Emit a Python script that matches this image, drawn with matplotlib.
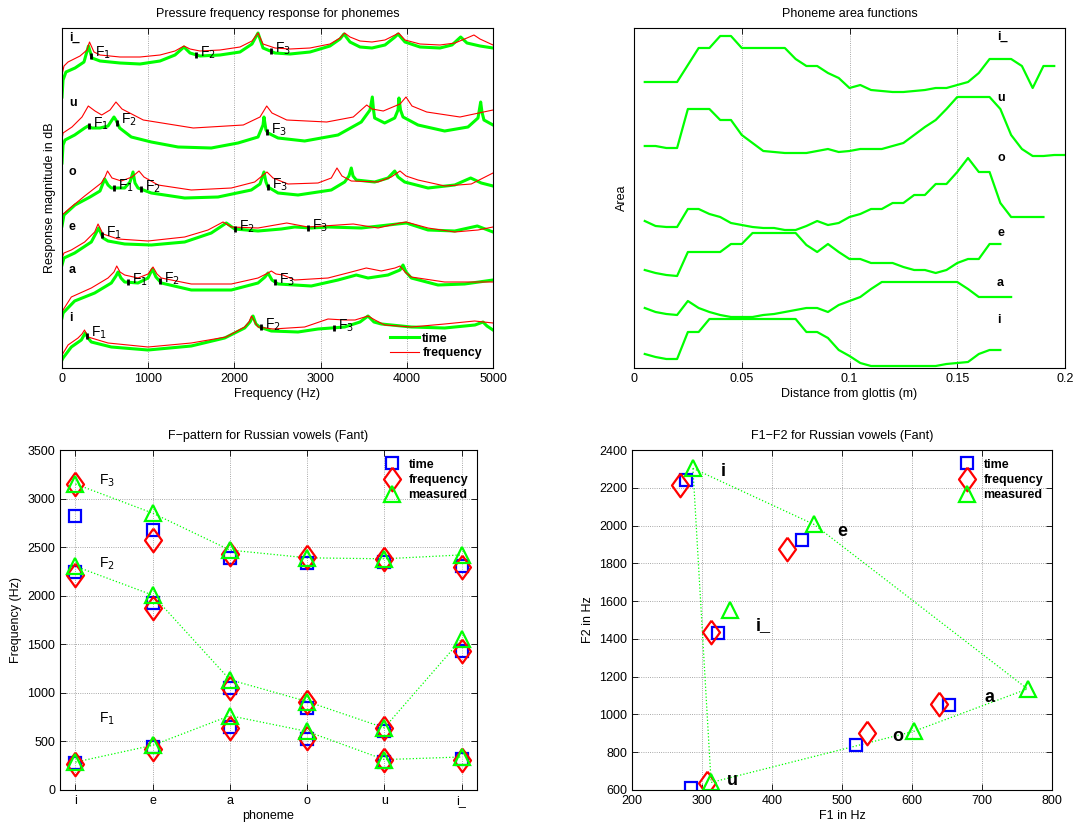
import matplotlib
matplotlib.use('Agg')
import matplotlib.pyplot as plt
import numpy as np

plt.rcParams['font.family'] = ['Liberation Sans', 'DejaVu Sans']
plt.rcParams['font.size'] = 9
plt.rcParams['axes.linewidth'] = 0.8

GREEN = (0, 1, 0)
RED = (1, 0, 0)
BLUE = (0, 0, 1)
DIAMOND = [(0, 1), (0.72, 0), (0, -1), (-0.72, 0), (0, 1)]

phonemes = ['i', 'e', 'a', 'o', 'u', 'i_']

# formant frequencies (Hz) per phoneme, same order as phonemes
f1_time = [277, 443, 653, 520, 284, 323]
f2_time = [2241, 1925, 1050, 840, 609, 1429]
f3_time = [2821, 2679, 2390, 2335, 2350, 2303]
f1_freq = [269, 421, 639, 536, 307, 313]
f2_freq = [2213, 1874, 1055, 902, 635, 1436]
f3_freq = [3145, 2576, 2431, 2400, 2380, 2293]
f1_meas = [287, 460, 765, 603, 313, 340]
f2_meas = [2303, 2006, 1135, 911, 640, 1553]
f3_meas = [3150, 2850, 2470, 2390, 2380, 2420]

# pressure responses, (Hz, level in dB incl. stacking offset)
resp_time_i_ = [(0, 271), (12, 288), (46, 296), (151, 300), (255, 306), (307, 322), (348, 310), (441, 307),
                (673, 305), (905, 304), (1137, 307), (1311, 313), (1415, 321), (1485, 315), (1601, 312),
                (1833, 313), (2065, 316), (2204, 324), (2274, 335), (2332, 320), (2471, 315), (2645, 314),
                (2877, 316), (3109, 322), (3225, 329), (3271, 334), (3341, 326), (3457, 321), (3596, 320),
                (3747, 323), (3863, 331), (3898, 334), (3979, 326), (4153, 321), (4385, 320), (4524, 323),
                (4625, 331), (4698, 325), (4849, 322), (5000, 320)]
resp_freq_i_ = [(0, 293), (23, 302), (70, 306), (209, 312), (290, 318), (319, 326), (371, 316), (441, 313),
                (673, 311), (905, 311), (1137, 313), (1311, 317), (1415, 322), (1485, 319), (1601, 317),
                (1833, 318), (2065, 321), (2204, 327), (2274, 335), (2332, 324), (2471, 320), (2645, 319),
                (2877, 320), (3109, 324), (3225, 330), (3279, 335), (3341, 331), (3457, 327), (3596, 326),
                (3747, 328), (3863, 333), (3906, 335), (3979, 328), (4153, 324), (4385, 323), (4559, 325),
                (4698, 330), (4779, 333), (4849, 329), (5000, 323)]
resp_time_u = [(0, 205), (12, 223), (35, 228), (147, 233), (263, 240), (302, 242), (348, 240), (441, 240),
               (534, 242), (580, 248), (603, 251), (626, 248), (669, 240), (804, 231), (1036, 226),
               (1346, 221), (1732, 220), (2042, 225), (2274, 231), (2332, 243), (2343, 251), (2366, 238),
               (2390, 235), (2506, 230), (2815, 227), (3202, 233), (3472, 246), (3573, 258), (3600, 271),
               (3614, 258), (3627, 250), (3743, 245), (3860, 250), (3898, 258), (3909, 270), (3927, 258),
               (3956, 251), (4130, 243), (4439, 237), (4710, 241), (4826, 250), (4857, 266), (4872, 256),
               (4895, 248), (5000, 243)]
resp_freq_u = [(0, 228), (12, 235), (116, 241), (232, 251), (305, 262), (383, 257), (461, 253), (557, 258),
               (626, 266), (696, 259), (943, 248), (1523, 240), (2103, 243), (2297, 251), (2375, 262),
               (2436, 255), (2607, 248), (3071, 246), (3379, 251), (3535, 263), (3596, 259), (3727, 257),
               (3921, 264), (3991, 271), (4060, 262), (4231, 256), (4617, 251), (5000, 258)]
resp_time_o = [(0, 142), (23, 153), (151, 163), (325, 171), (441, 177), (495, 189), (534, 183), (572, 180),
               (727, 180), (789, 186), (824, 196), (847, 185), (882, 180), (1036, 175), (1423, 170),
               (1810, 171), (2196, 178), (2297, 184), (2343, 196), (2366, 186), (2390, 181), (2506, 175),
               (2738, 173), (3124, 178), (3279, 186), (3329, 192), (3356, 200), (3376, 192), (3414, 188),
               (3627, 186), (3782, 190), (3860, 197), (3898, 191), (3975, 186), (4246, 180), (4556, 183),
               (4741, 190), (4864, 185), (5000, 182)]
resp_freq_o = [(0, 153), (93, 160), (263, 172), (456, 185), (499, 191), (528, 197), (580, 190), (688, 187),
               (812, 191), (893, 197), (951, 191), (1114, 183), (1500, 178), (1964, 180), (2235, 186),
               (2320, 192), (2378, 196), (2448, 190), (2622, 184), (2970, 185), (3124, 190), (3190, 200),
               (3248, 192), (3356, 187), (3666, 186), (3820, 191), (3921, 197), (3991, 192), (4130, 188),
               (4443, 182), (4748, 184), (5000, 195)]
resp_time_e = [(0, 103), (23, 110), (147, 115), (340, 126), (426, 140), (476, 130), (534, 127), (727, 124),
               (1036, 123), (1423, 126), (1732, 135), (1906, 145), (2003, 139), (2274, 137), (2544, 139),
               (2699, 141), (2892, 140), (3086, 141), (3472, 140), (3994, 145), (4246, 138), (4556, 137),
               (4818, 142), (5000, 136)]
resp_freq_e = [(0, 110), (23, 115), (108, 118), (263, 126), (379, 136), (418, 144), (476, 134), (650, 129),
               (998, 127), (1423, 131), (1694, 138), (1868, 146), (1964, 141), (2274, 140), (2607, 145),
               (2854, 141), (3379, 144), (3666, 140), (3921, 145), (3994, 146), (4246, 140), (4556, 136),
               (4826, 138), (5000, 141)]
resp_time_a = [(0, 50), (12, 55), (147, 67), (379, 75), (572, 85), (626, 92), (650, 96), (684, 90), (727, 86),
               (882, 85), (998, 90), (1048, 99), (1090, 91), (1152, 85), (1500, 78), (1964, 78), (2274, 85),
               (2355, 91), (2390, 95), (2436, 88), (2506, 84), (2892, 82), (3202, 88), (3414, 93), (3550, 90),
               (3782, 93), (3921, 98), (3956, 103), (3991, 96), (4052, 90), (4362, 83), (4671, 84), (5000, 88)]
resp_freq_a = [(0, 56), (12, 58), (108, 71), (340, 80), (534, 90), (603, 96), (635, 102), (673, 96), (727, 93),
               (882, 90), (998, 94), (1056, 101), (1102, 94), (1152, 90), (1500, 84), (1964, 84), (2274, 90),
               (2390, 95), (2428, 97), (2482, 94), (2564, 93), (2699, 88), (3086, 90), (3356, 96), (3530, 100),
               (3704, 97), (3863, 100), (3921, 102), (3979, 96), (4052, 91), (4439, 86), (5000, 86)]
resp_time_i = [(0, 8), (12, 10), (108, 21), (224, 28), (270, 35), (302, 30), (340, 26), (572, 21), (998, 18),
               (1500, 22), (1887, 30), (2119, 40), (2181, 46), (2216, 52), (2250, 44), (2293, 41), (2428, 37),
               (2738, 36), (2970, 39), (3279, 41), (3457, 46), (3550, 52), (3619, 46), (3704, 44), (4052, 41),
               (4439, 40), (4791, 43), (4884, 46), (4930, 42), (5000, 38)]
resp_freq_i = [(0, 13), (70, 23), (186, 30), (232, 34), (261, 38), (302, 31), (534, 25), (998, 21), (1500, 25),
               (1902, 31), (2119, 41), (2169, 46), (2198, 52), (2250, 44), (2274, 41), (2448, 39), (2815, 41),
               (3086, 49), (3279, 48), (3399, 48), (3550, 52), (3631, 48), (3743, 43), (4052, 41), (4439, 44),
               (4787, 47), (5000, 45)]
resp_label_level = [50, 141, 98, 196, 265, 330]

# area functions, one value per 5 mm tube section (stacked, arbitrary units)
section_pos = [0.005, 0.010, 0.015, 0.020, 0.025, 0.030, 0.035, 0.040, 0.045, 0.050,
               0.055, 0.060, 0.065, 0.070, 0.075, 0.080, 0.085, 0.090, 0.095, 0.100,
               0.105, 0.110, 0.115, 0.120, 0.125, 0.130, 0.135, 0.140, 0.145, 0.150,
               0.155, 0.160, 0.165, 0.170, 0.175, 0.180, 0.185, 0.190, 0.195, 0.200]
area_i_ = [286, 286, 286, 286, 303, 320, 320, 332, 332, 320, 320, 320, 320, 320, 309, 302, 302, 295, 290, 280,
           283, 278, 277, 276, 276, 277, 278, 280, 280, 283, 286, 295, 309, 309, 309, 302, 280, 302, 302]
area_u = [222, 222, 220, 220, 259, 259, 259, 248, 248, 233, 225, 217, 216, 215, 215, 215, 217, 219, 216, 217,
          219, 219, 219, 222, 225, 233, 241, 248, 259, 271, 271, 271, 271, 259, 233, 219, 212, 212, 213, 213]
area_o = [147, 142, 141, 141, 159, 159, 154, 151, 145, 143, 141, 140, 140, 138, 138, 142, 147, 143, 145, 151,
          154, 159, 159, 165, 165, 173, 173, 184, 184, 196, 210, 196, 196, 165, 151, 151, 151, 151]
area_e = [98, 95, 93, 92, 116, 116, 116, 116, 124, 124, 135, 135, 135, 135, 135, 123, 116, 124, 116, 109,
          109, 105, 105, 105, 101, 98, 98, 95, 98, 105, 109, 109, 124, 124]
area_a = [60, 56, 54, 53, 67, 60, 56, 53, 51, 51, 51, 53, 54, 56, 58, 60, 60, 56, 63, 67,
          71, 79, 86, 86, 86, 86, 86, 86, 86, 86, 79, 71, 71, 71, 71]
area_i = [14, 11, 9, 9, 36, 36, 49, 49, 49, 49, 49, 49, 49, 49, 49, 36, 36, 30, 18, 12,
          5, 2, 2, 2, 2, 2, 2, 2, 4, 5, 6, 14, 18, 18]
area_label_level = [48, 135, 85, 210, 270, 331]

# vowel label positions in the F1-F2 plane
f1f2_label_f1 = [330, 500, 711, 580, 343, 387]
f1f2_label_f2 = [2285, 1968, 1090, 882, 650, 1470]

W, H = 1077, 823
fig = plt.figure(figsize=(W / 100, H / 100), dpi=100)


def box(l, t, r, b):
    return [l / W, 1 - b / H, (r - l) / W, (b - t) / H]


def matlab_ticks(ax):
    ax.tick_params(direction='in', top=True, right=True, length=4, width=0.6, labelsize=9)


# ---- pressure frequency response ----
ax1 = fig.add_axes(box(62, 28, 493, 368))
time_curves = [resp_time_i, resp_time_e, resp_time_a, resp_time_o, resp_time_u, resp_time_i_]
freq_curves = [resp_freq_i, resp_freq_e, resp_freq_a, resp_freq_o, resp_freq_u, resp_freq_i_]
for k, (tc, fc) in enumerate(zip(time_curves, freq_curves)):
    tc = np.array(tc, dtype=float)
    fc = np.array(fc, dtype=float)
    ax1.plot(tc[:, 0], tc[:, 1], color=GREEN, lw=2.2, label='time' if k == 0 else None)
    ax1.plot(fc[:, 0], fc[:, 1], color=RED, lw=0.8, label='frequency' if k == 0 else None)
    for j, fm in enumerate([f1_meas[k], f2_meas[k], f3_meas[k]]):
        yv = np.interp(fm, tc[:, 0], tc[:, 1])
        ax1.plot(fm, yv, marker='|', color='k', ms=5, mew=2, linestyle='none')
        ax1.annotate('F$_%d$' % (j + 1), (fm, yv), xytext=(3, -1), textcoords='offset points',
                     ha='left', va='baseline', fontsize=10)
    ax1.text(80, resp_label_level[k], phonemes[k], fontweight='bold', fontsize=9, ha='left', va='center')
ax1.set_xlim(0, 5000)
ax1.set_ylim(0, 340)
ax1.set_yticks([])
ax1.set_xticks(range(0, 5001, 1000))
ax1.grid(True, axis='x', linestyle=':', color='0.55', lw=0.6)
matlab_ticks(ax1)
ax1.set_xlabel('Frequency (Hz)', labelpad=2)
ax1.set_ylabel('Response magnitude in dB', labelpad=4)
ax1.set_title('Pressure frequency response for phonemes', fontsize=9, pad=8)
ax1.legend(loc='lower right', bbox_to_anchor=(0.995, 0.0), frameon=False, handlelength=2.3,
           handletextpad=0.3, labelspacing=0.2, borderaxespad=0.3, prop={'weight': 'bold', 'size': 9})

# ---- area functions ----
ax2 = fig.add_axes(box(634, 28, 1065, 368))
area_curves = [area_i, area_e, area_a, area_o, area_u, area_i_]
for k, ac in enumerate(area_curves):
    ax2.plot(section_pos[:len(ac)], ac, color=GREEN, lw=1.6)
    ax2.text(0.1685, area_label_level[k], phonemes[k], fontweight='bold', fontsize=9, ha='left', va='center')
ax2.set_xlim(0, 0.2)
ax2.set_ylim(0, 340)
ax2.set_yticks([])
ax2.set_xticks([0, 0.05, 0.1, 0.15, 0.2])
ax2.set_xticklabels(['0', '0.05', '0.1', '0.15', '0.2'])
ax2.grid(True, axis='x', linestyle=':', color='0.55', lw=0.6)
matlab_ticks(ax2)
ax2.set_xlabel('Distance from glottis (m)', labelpad=2)
ax2.set_ylabel('Area', labelpad=4)
ax2.set_title('Phoneme area functions', fontsize=9, pad=8)

# ---- F-pattern ----
ax3 = fig.add_axes(box(60, 450, 477, 790))
pos = np.arange(1, len(phonemes) + 1)
for fm in [f1_meas, f2_meas, f3_meas]:
    ax3.plot(pos, fm, linestyle=':', color=GREEN, lw=0.9)
mk = dict(linestyle='none', mfc='none', mew=1.6)
for j, (ft, ff, fmeas) in enumerate([(f1_time, f1_freq, f1_meas), (f2_time, f2_freq, f2_meas),
                                     (f3_time, f3_freq, f3_meas)]):
    ax3.plot(pos, ft, marker='s', ms=8, mec=BLUE, label='time' if j == 0 else None, **mk)
    ax3.plot(pos, ff, marker=DIAMOND, ms=17, mec=RED, label='frequency' if j == 0 else None, **mk)
    ax3.plot(pos, fmeas, marker='^', ms=11, mec=GREEN, label='measured' if j == 0 else None, **mk)
for j, yv in enumerate([730, 2325, 3180]):
    ax3.text(1.31, yv, 'F$_%d$' % (j + 1), fontsize=10, ha='left', va='center')
ax3.set_xlim(0.8, 6.2)
ax3.set_ylim(0, 3500)
ax3.set_xticks(pos)
ax3.set_xticklabels(phonemes)
ax3.set_yticks(range(0, 3501, 500))
ax3.grid(True, linestyle=':', color='0.55', lw=0.6)
matlab_ticks(ax3)
ax3.set_xlabel('phoneme', labelpad=2)
ax3.set_ylabel('Frequency (Hz)', labelpad=4)
ax3.set_title('F\u2212pattern for Russian vowels (Fant)', fontsize=9, pad=8)
ax3.legend(loc='upper right', frameon=False, handletextpad=0.3, labelspacing=0.25, borderaxespad=0.3,
           prop={'weight': 'bold', 'size': 9})

# ---- F1-F2 plane ----
ax4 = fig.add_axes(box(632, 450, 1052, 790))
loop = [0, 1, 2, 3, 4, 0]
ax4.plot([f1_meas[i] for i in loop], [f2_meas[i] for i in loop], linestyle=':', color=GREEN, lw=0.9)
ax4.plot(f1_time, f2_time, marker='s', ms=8, mec=BLUE, label='time', **mk)
ax4.plot(f1_freq, f2_freq, marker=DIAMOND, ms=17, mec=RED, label='frequency', **mk)
ax4.plot(f1_meas, f2_meas, marker='^', ms=11, mec=GREEN, label='measured', **mk)
for k, ph in enumerate(phonemes):
    ax4.text(f1f2_label_f1[k], f1f2_label_f2[k], ph, fontweight='bold', fontsize=13, ha='center', va='center')
ax4.set_xlim(200, 800)
ax4.set_ylim(600, 2400)
ax4.set_xticks(range(200, 801, 100))
ax4.set_yticks(range(600, 2401, 200))
ax4.grid(True, linestyle=':', color='0.55', lw=0.6)
matlab_ticks(ax4)
ax4.set_xlabel('F1 in Hz', labelpad=2)
ax4.set_ylabel('F2 in Hz', labelpad=4)
ax4.set_title('F1\u2212F2 for Russian vowels (Fant)', fontsize=9, pad=8)
ax4.legend(loc='upper right', frameon=False, handletextpad=0.3, labelspacing=0.25, borderaxespad=0.3,
           prop={'weight': 'bold', 'size': 9})

fig.savefig('out.png', dpi=100)
